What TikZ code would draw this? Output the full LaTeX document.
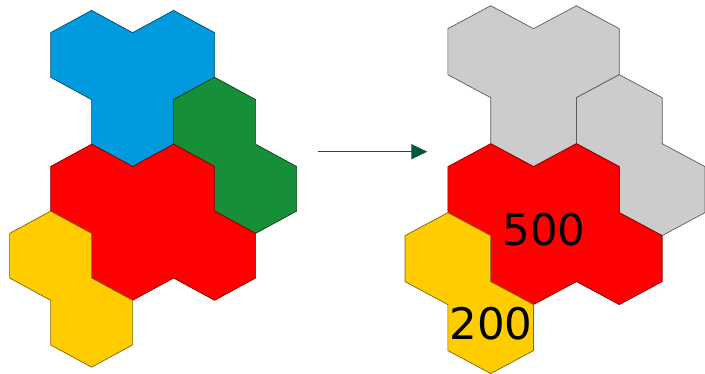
\documentclass[tikz,border=0pt]{standalone}
\usepackage{fontspec}
\setmainfont{DejaVu Sans}
\usepackage{tikz}
\usetikzlibrary{arrows.meta}

\definecolor{tileblue}{HTML}{009BDE}
\definecolor{tilegreen}{HTML}{178F38}
\definecolor{tilered}{HTML}{FF0000}
\definecolor{tileyellow}{HTML}{FFCC00}
\definecolor{tilegray}{HTML}{CCCCCC}
\definecolor{arrowgreen}{HTML}{005A3F}

\begin{document}
\begin{tikzpicture}
          [x=1pt, y=-1pt,
           piece/.style={line width=0.7pt, line join=miter},
           bluepiece/.style={piece, fill=tileblue, draw=tileblue!45!black},
           greenpiece/.style={piece, fill=tilegreen, draw=tilegreen!45!black},
           redpiece/.style={piece, fill=tilered, draw=tilered!50!black},
           yellowpiece/.style={piece, fill=tileyellow, draw=tileyellow!50!black},
           graypiece/.style={piece, fill=tilegray, draw=tilegray!45!black},
           score/.style={font=\fontsize{43.5}{50}\selectfont, inner sep=0pt}]
          \useasboundingbox (0,0) rectangle (705,374);

          % before
          \begin{scope}[shift={(9.6,55)}, x=41pt, y=-22.3pt]
            \draw[bluepiece] (2,-2) -- (3,-1) -- (4,-2) -- (5,-1) -- (5,1) -- (4,2)
              -- (4,4) -- (3,5) -- (2,4) -- (2,2) -- (1,1) -- (1,-1) -- cycle;
            \draw[greenpiece] (5,1) -- (6,2) -- (6,4) -- (7,5) -- (7,7) -- (6,8)
              -- (5,7) -- (5,5) -- (4,4) -- (4,2) -- cycle;
            \draw[redpiece] (1,5) -- (2,4) -- (3,5) -- (4,4) -- (5,5) -- (5,7) -- (6,8)
              -- (6,10) -- (5,11) -- (4,10) -- (3,11) -- (2,10) -- (2,8) -- (1,7) -- cycle;
            \draw[yellowpiece] (0,8) -- (1,7) -- (2,8) -- (2,10) -- (3,11) -- (3,13)
              -- (2,14) -- (1,13) -- (1,11) -- (0,10) -- cycle;
          \end{scope}

          % after
          \begin{scope}[shift={(405,51.7)}, x=42.86pt, y=-22.99pt]
            \draw[graypiece] (2,-2) -- (3,-1) -- (4,-2) -- (5,-1) -- (5,1) -- (4,2)
              -- (4,4) -- (3,5) -- (2,4) -- (2,2) -- (1,1) -- (1,-1) -- cycle;
            \draw[graypiece] (5,1) -- (6,2) -- (6,4) -- (7,5) -- (7,7) -- (6,8)
              -- (5,7) -- (5,5) -- (4,4) -- (4,2) -- cycle;
            \draw[redpiece] (1,5) -- (2,4) -- (3,5) -- (4,4) -- (5,5) -- (5,7) -- (6,8)
              -- (6,10) -- (5,11) -- (4,10) -- (3,11) -- (2,10) -- (2,8) -- (1,7) -- cycle;
            \draw[yellowpiece] (0,8) -- (1,7) -- (2,8) -- (2,10) -- (3,11) -- (3,13)
              -- (2,14) -- (1,13) -- (1,11) -- (0,10) -- cycle;
            \node (red score) [score] at (3.24,7.72) {500};
            \node (yellow score) [score] at (2.01,11.85) {200};
          \end{scope}

          \coordinate (before) at (318.3,151.7);
          \coordinate (after) at (427.3,151.7);
          \draw[-{Triangle[length=16pt, width=15pt]}, arrowgreen, line width=1.3pt]
            (before) -- (after);

        \end{tikzpicture}
\end{document}
